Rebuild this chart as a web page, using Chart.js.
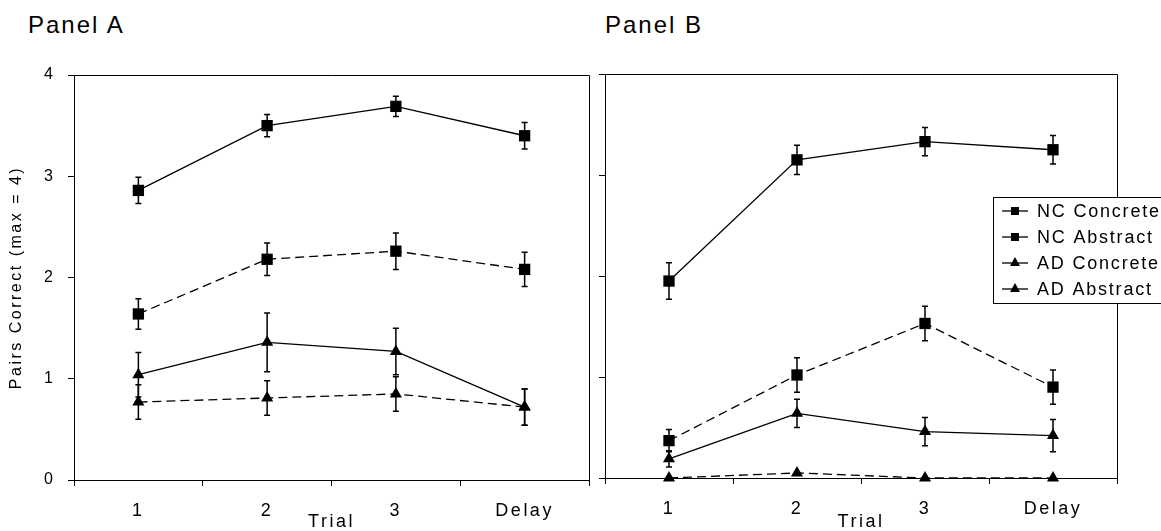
<!DOCTYPE html>
<html lang="en">
<head>
  <meta charset="UTF-8">
  <title>Pairs Correct - Panel A / Panel B</title>
  <script src="https://cdn.jsdelivr.net/npm/chart.js"></script>
  <style>
    body { margin: 0; background: #fff; font-family: 'Liberation Sans', Arial, sans-serif; }
    #wrap { position: relative; width: 1161px; height: 531px; overflow: hidden; }
    .panel-title {
      position: absolute; top: 13px; font-size: 24px; line-height: 24px;
      letter-spacing: 2px; color: #000;
    }
    .box { position: absolute; top: 0; height: 531px; }
  </style>
</head>
<body>
  <div id="wrap">
    <div class="panel-title" style="left:28px">Panel A</div>
    <div class="panel-title" style="left:605px">Panel B</div>
    <div class="box" style="left:0;width:597px"><canvas id="chartA"></canvas></div>
    <div class="box" style="left:597px;width:564px"><canvas id="chartB"></canvas></div>
  </div>

  <script>
    // Categories and series names
    const categories = ['1', '2', '3', 'Delay'];
    const seriesNames = ['NC Concrete', 'NC Abstract', 'AD Concrete', 'AD Abstract'];
    const yTicks = [0, 1, 2, 3, 4];

    // Panel A: means and error bar half-lengths
    const ncConcreteA = [2.86, 3.50, 3.69, 3.40];
    const ncConcreteAErr = [0.13, 0.11, 0.10, 0.13];
    const ncAbstractA = [1.64, 2.18, 2.26, 2.08];
    const ncAbstractAErr = [0.15, 0.16, 0.18, 0.17];
    const adConcreteA = [1.04, 1.36, 1.27, 0.72];
    const adConcreteAErr = [0.22, 0.29, 0.23, 0.18];
    const adAbstractA = [0.77, 0.81, 0.85, 0.72];
    const adAbstractAErr = [0.17, 0.17, 0.17, 0.18];

    // Panel B
    const ncConcreteB = [1.95, 3.15, 3.33, 3.25];
    const ncConcreteBErr = [0.18, 0.145, 0.14, 0.14];
    const ncAbstractB = [0.37, 1.02, 1.53, 0.90];
    const ncAbstractBErr = [0.11, 0.17, 0.17, 0.17];
    const adConcreteB = [0.19, 0.64, 0.46, 0.42];
    const adConcreteBErr = [0.08, 0.14, 0.14, 0.16];
    const adAbstractB = [0, 0.05, 0, 0];
    const adAbstractBErr = [0, 0, 0, 0];

    Chart.defaults.font.family = "'Liberation Sans', Arial, sans-serif";
    Chart.defaults.color = '#000';

    function makeDatasets(values, errors) {
      return values.map((vals, i) => ({
        label: seriesNames[i],
        data: vals,
        errors: errors[i],
        borderColor: '#000',
        backgroundColor: '#000',
        borderWidth: 1.3,
        borderDash: i % 2 === 1 ? [9, 5] : [],
        pointStyle: i < 2 ? 'rect' : 'triangle',
        pointRadius: i < 2 ? 8 : 7,
        pointBorderWidth: 0,
        pointBackgroundColor: '#000',
        tension: 0,
        clip: false
      }));
    }

    // vertical error bars with small caps, drawn from the scales
    const errorBars = {
      id: 'errorBars',
      beforeDatasetsDraw(chart) {
        const { ctx, scales: { x, y } } = chart;
        ctx.save();
        ctx.strokeStyle = '#000';
        ctx.lineWidth = 1.5;
        chart.data.datasets.forEach(ds => {
          ds.errors.forEach((e, i) => {
            if (!e) return;
            const px = x.getPixelForValue(i);
            const top = y.getPixelForValue(ds.data[i] + e);
            const bot = y.getPixelForValue(ds.data[i] - e);
            ctx.beginPath();
            ctx.moveTo(px, top); ctx.lineTo(px, bot);
            ctx.moveTo(px - 3, top); ctx.lineTo(px + 3, top);
            ctx.moveTo(px - 3, bot); ctx.lineTo(px + 3, bot);
            ctx.stroke();
          });
        });
        ctx.restore();
      }
    };

    // top and right border of the plot box, plus the spaced-out lettering
    const frame = {
      id: 'frame',
      beforeDraw(chart) { chart.ctx.letterSpacing = '2.5px'; },
      afterDraw(chart) {
        const { ctx, chartArea: a } = chart;
        ctx.save();
        ctx.strokeStyle = '#000';
        ctx.lineWidth = 1;
        const t = Math.round(a.top) + 0.5, r = Math.round(a.right) + 0.5;
        ctx.beginPath();
        ctx.moveTo(a.left, t); ctx.lineTo(r, t); ctx.lineTo(r, a.bottom);
        ctx.stroke();
        ctx.restore();
      }
    };

    // boxed legend overlapping the right edge of panel B
    const boxLegend = {
      id: 'boxLegend',
      afterDraw(chart) {
        const { ctx } = chart;
        const bx = 396, by = 197, bw = 200, bh = 106;
        ctx.save();
        ctx.letterSpacing = '1.8px';
        ctx.fillStyle = '#fff';
        ctx.fillRect(bx, by, bw, bh);
        ctx.strokeStyle = '#000';
        ctx.lineWidth = 1;
        ctx.strokeRect(bx + 0.5, by + 0.5, bw, bh);
        chart.data.datasets.forEach((ds, i) => {
          const cy = 211 + i * 26;
          ctx.strokeStyle = '#000';
          ctx.lineWidth = 1.3;
          ctx.beginPath();
          ctx.moveTo(405, cy); ctx.lineTo(431, cy);
          ctx.stroke();
          ctx.fillStyle = '#000';
          ctx.beginPath();
          if (ds.pointStyle === 'rect') {
            ctx.rect(414, cy - 4, 8, 8);
          } else {
            ctx.moveTo(418, cy - 6); ctx.lineTo(423, cy + 3); ctx.lineTo(413, cy + 3);
            ctx.closePath();
          }
          ctx.fill();
          ctx.font = "18px 'Liberation Sans', Arial, sans-serif";
          ctx.textBaseline = 'middle';
          ctx.textAlign = 'left';
          ctx.fillText(ds.label, 440, cy + 1);
        });
        ctx.restore();
      }
    };

    function makeOptions(opts) {
      return {
        responsive: true,
        maintainAspectRatio: false,
        animation: false,
        devicePixelRatio: 1,
        layout: { padding: opts.padding },
        plugins: { legend: { display: false }, title: { display: false }, tooltip: { enabled: false } },
        scales: {
          x: {
            type: 'category',
            offset: true,
            grid: { offset: true, drawOnChartArea: false, drawTicks: true, tickLength: 6, color: '#000' },
            border: { display: true, color: '#000', width: 1 },
            ticks: { font: { size: 18 }, padding: 14, color: '#000', maxRotation: 0 },
            title: { display: true, text: 'Trial', font: { size: 18, lineHeight: 1 }, padding: { top: 0, bottom: 0 }, color: '#000' },
            afterFit(s) { s.height = opts.xHeight; }
          },
          y: {
            min: 0, max: 4,
            afterBuildTicks(s) { s.ticks = yTicks.map(v => ({ value: v })); },
            grid: { drawOnChartArea: false, drawTicks: true, tickLength: 6, color: '#000' },
            border: { display: true, color: '#000', width: 1 },
            ticks: {
              font: { size: 16 }, padding: 12.5, color: '#000',
              callback: v => opts.yLabels ? String(v) : ''
            },
            title: {
              display: opts.yTitle, text: 'Pairs Correct (max = 4)',
              font: { size: 16 }, padding: { top: 7, bottom: 0 }, color: '#000'
            },
            afterFit(s) { s.width = opts.yWidth; }
          }
        }
      };
    }

    new Chart(document.getElementById('chartA'), {
      type: 'line',
      data: {
        labels: categories,
        datasets: makeDatasets(
          [ncConcreteA, ncAbstractA, adConcreteA, adAbstractA],
          [ncConcreteAErr, ncAbstractAErr, adConcreteAErr, adAbstractAErr])
      },
      options: makeOptions({
        padding: { left: 0, top: 75, right: 7, bottom: 0 },
        yWidth: 74, xHeight: 51, yLabels: true, yTitle: true
      }),
      plugins: [errorBars, frame]
    });

    new Chart(document.getElementById('chartB'), {
      type: 'line',
      data: {
        labels: categories,
        datasets: makeDatasets(
          [ncConcreteB, ncAbstractB, adConcreteB, adAbstractB],
          [ncConcreteBErr, ncAbstractBErr, adConcreteBErr, adAbstractBErr])
      },
      options: makeOptions({
        padding: { left: 0, top: 74, right: 44, bottom: 0 },
        yWidth: 8, xHeight: 53, yLabels: false, yTitle: false
      }),
      plugins: [errorBars, frame, boxLegend]
    });
  </script>
</body>
</html>
